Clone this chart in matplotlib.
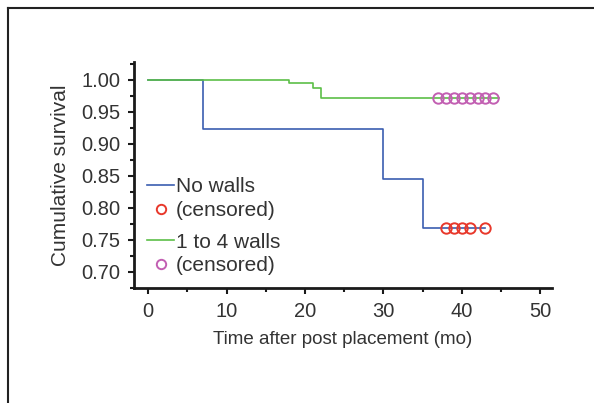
import matplotlib
matplotlib.use("Agg")
import matplotlib.pyplot as plt
from matplotlib.lines import Line2D
from matplotlib.ticker import MultipleLocator

plt.rcParams['font.family'] = ['Liberation Sans', 'DejaVu Sans']
txt = '#333333'

# Kaplan-Meier steps
t_none = [0, 7, 30, 35, 43]
s_none = [1.0, 0.923, 0.846, 0.769, 0.769]
cens_none_t = [38, 39, 40, 41, 43]
cens_none_s = [0.769] * len(cens_none_t)

t_walls = [0, 18, 21, 22, 44.8]
s_walls = [1.0, 0.996, 0.988, 0.972, 0.972]
cens_walls_t = [37, 38, 39, 40, 41, 42, 43, 44]
cens_walls_s = [0.972] * len(cens_walls_t)

xticks = [0, 10, 20, 30, 40, 50]
yticks = [0.70, 0.75, 0.80, 0.85, 0.90, 0.95, 1.00]

blue = '#3b5db0'
green = '#5cbf48'
red = '#e8382b'
magenta = '#c25fb2'

fig = plt.figure(figsize=(5.94, 4.03), dpi=100)
ax = fig.add_axes([0.2256, 0.2854, 0.7037, 0.5606])

ln1, = ax.step(t_none, s_none, where='post', color=blue, lw=1.2)
ln2, = ax.step(t_walls, s_walls, where='post', color=green, lw=1.2)
c1, = ax.plot(cens_none_t, cens_none_s, 'o', mfc='none', mec=red, ms=7.5, mew=1.4)
c2, = ax.plot(cens_walls_t, cens_walls_s, 'o', mfc='none', mec=magenta, ms=7.5, mew=1.4)

ax.set_xlim(-1.8, 51.5)
ax.set_ylim(0.675, 1.028)
ax.set_xticks(xticks)
ax.set_yticks(yticks)
ax.set_yticklabels([f'{v:.2f}' for v in yticks])
ax.xaxis.set_minor_locator(MultipleLocator(5))
ax.yaxis.set_minor_locator(MultipleLocator(0.025))

for s in ['top', 'right']:
    ax.spines[s].set_visible(False)
for s in ['left', 'bottom']:
    ax.spines[s].set_linewidth(2)
    ax.spines[s].set_color('#1a1a1a')

ax.tick_params(which='major', direction='out', length=4, width=1.5, color='#1a1a1a',
               labelsize=14.5, labelcolor=txt, pad=6)
ax.tick_params(which='minor', direction='out', length=3, width=1.5, color='#1a1a1a')

ax.set_xlabel('Time after post placement (mo)', fontsize=13.5, color=txt, labelpad=7)
ax.set_ylabel('Cumulative survival', fontsize=15, color=txt, labelpad=8)

leg_kw = dict(frameon=False, fontsize=15, handlelength=1.3, handletextpad=0.05,
              labelspacing=0.22, borderpad=0, borderaxespad=0, loc='upper left',
              labelcolor=txt, markerscale=0.9)
leg1 = ax.legend([ln1, c1], ['No walls', '(censored)'],
                 bbox_to_anchor=(0.032, 0.49), **leg_kw)
ax.add_artist(leg1)
ax.legend([ln2, c2], ['1 to 4 walls', '(censored)'],
          bbox_to_anchor=(0.032, 0.245), **leg_kw)

# outer frame of the figure panel
fx, fy = 8 / 594, 1 - 8 / 403
fig.add_artist(Line2D([fx, fx], [0, fy], color='#222222', lw=1.5))
fig.add_artist(Line2D([fx, 1], [fy, fy], color='#222222', lw=1.5))

fig.savefig('out.png', dpi=100)
